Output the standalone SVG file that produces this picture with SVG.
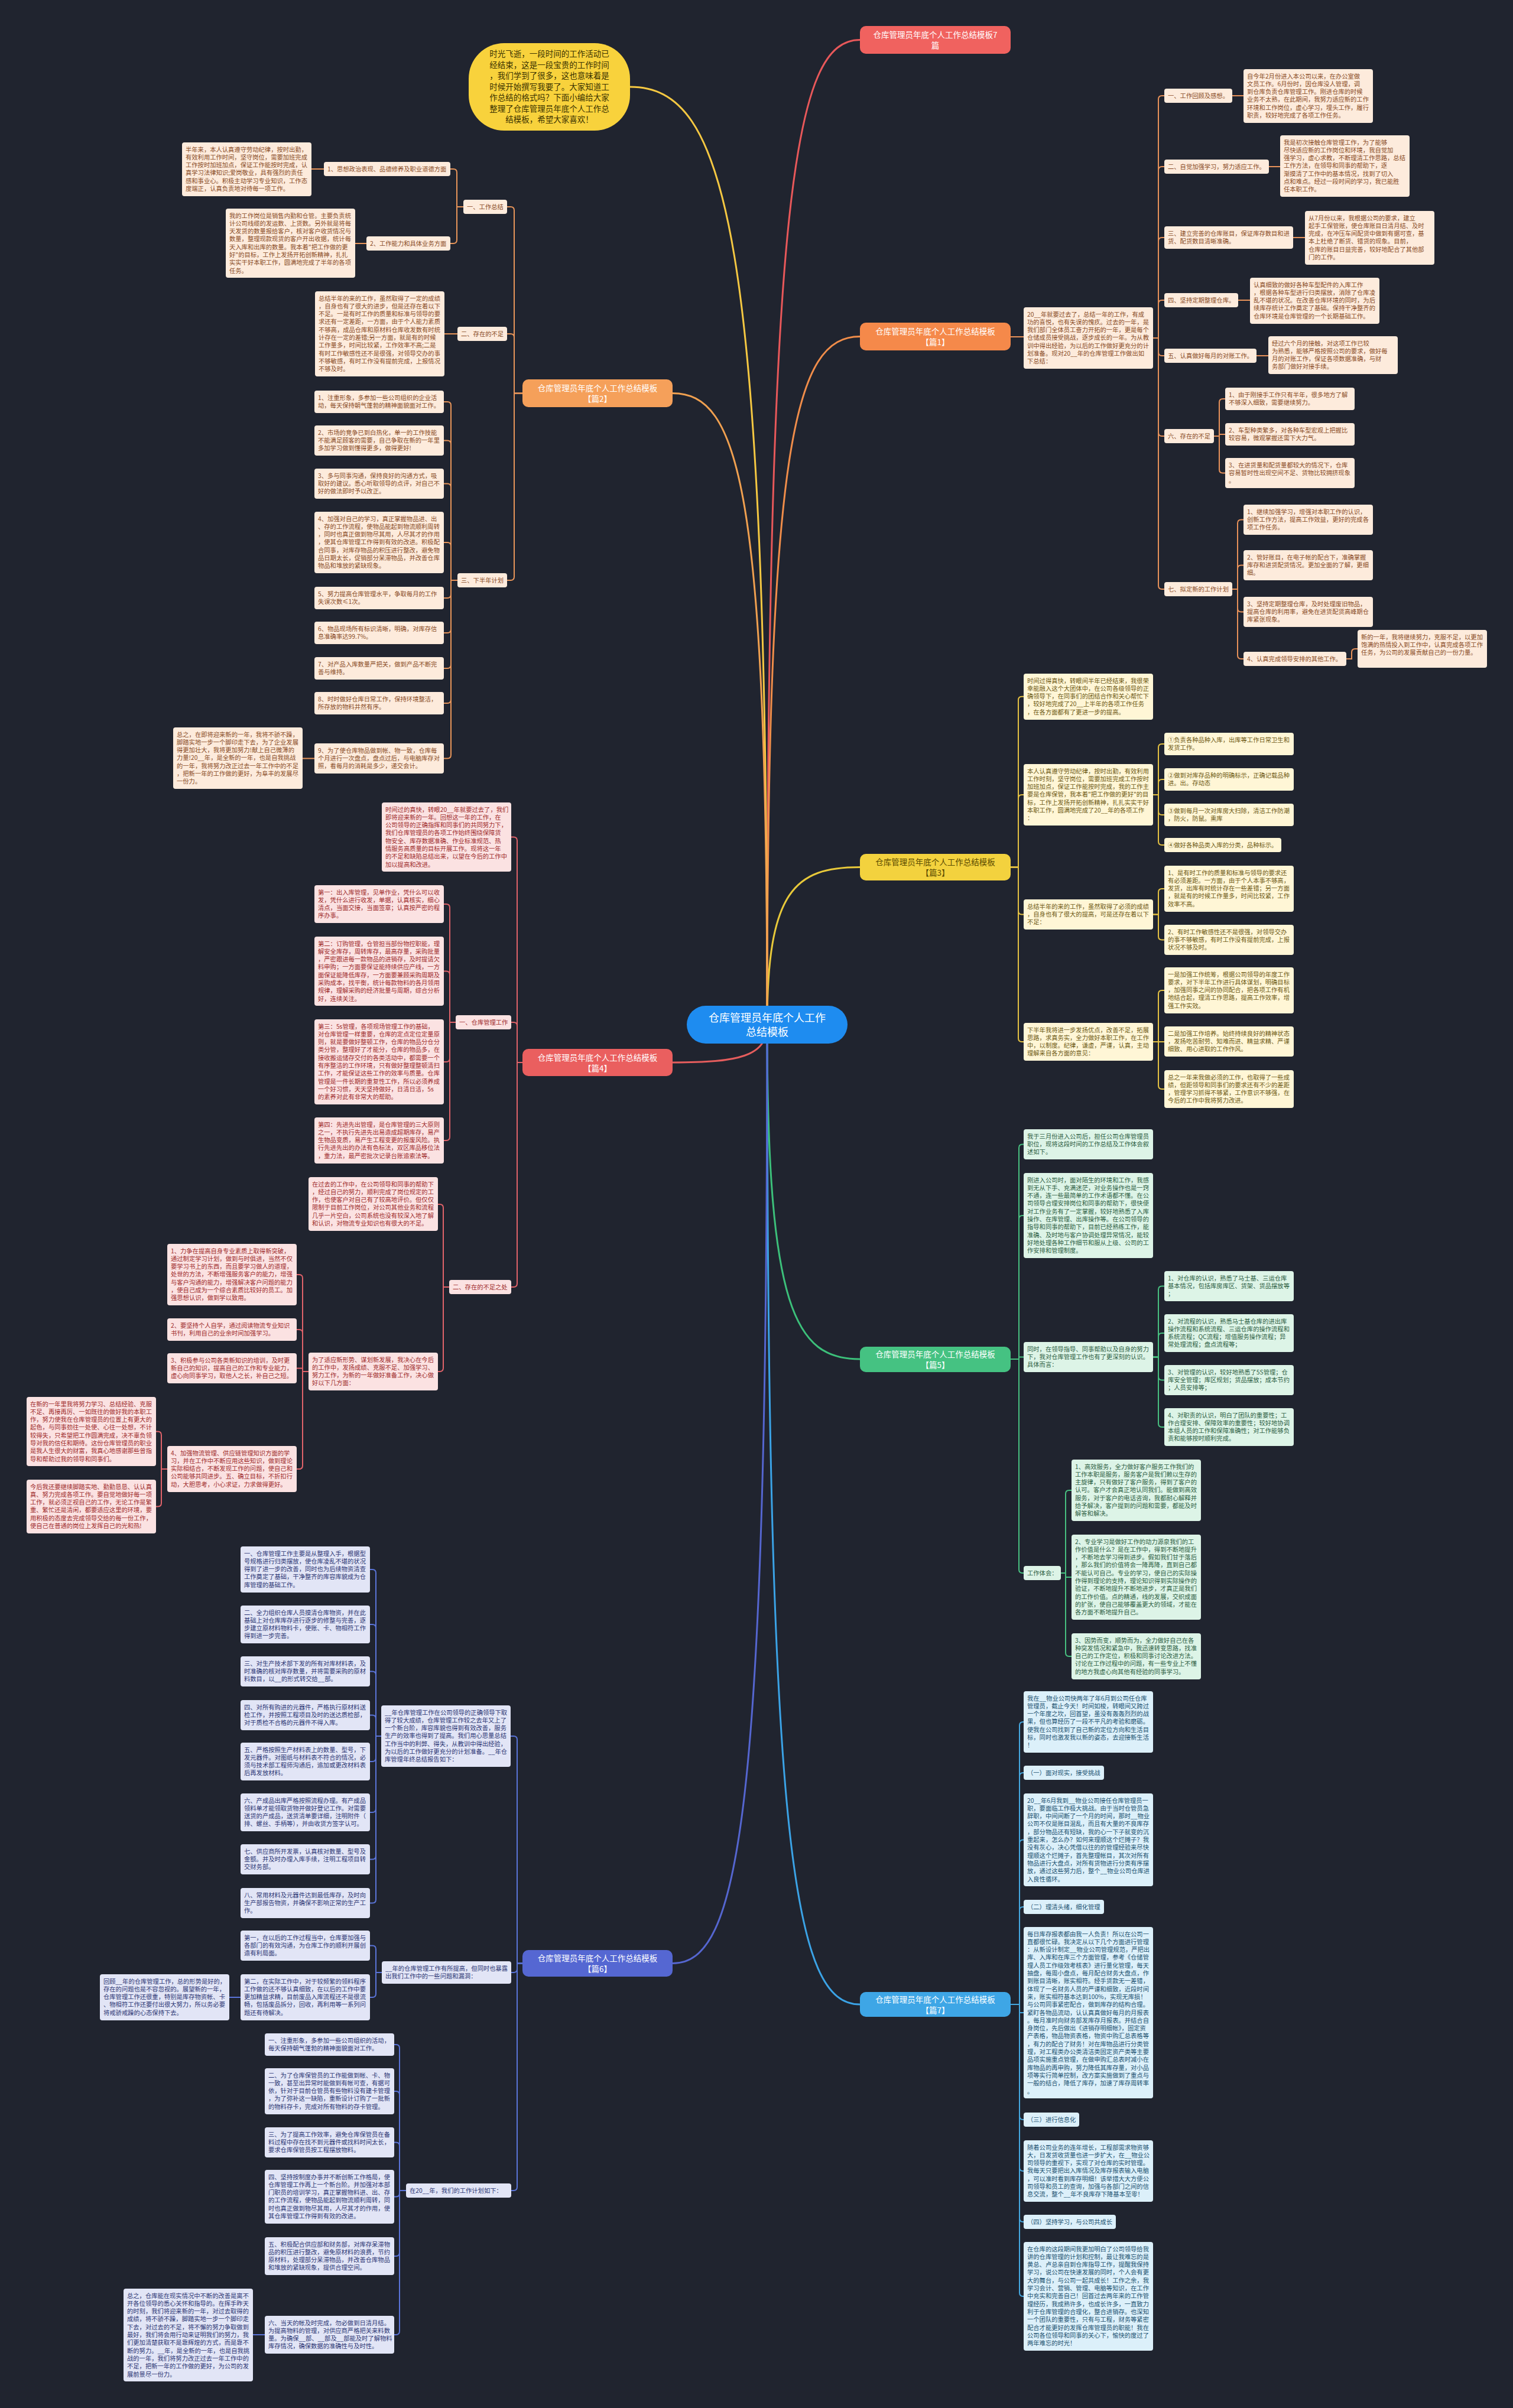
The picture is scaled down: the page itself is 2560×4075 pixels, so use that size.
<svg xmlns="http://www.w3.org/2000/svg" width="2560" height="4075" viewBox="0 0 2560 4075">
<style>
text{font-family:"Noto Sans CJK SC","Noto Sans",sans-serif}
.t{font-size:10.3px}
.or rect{fill:#fdebdc}.or text{fill:#8a4b26}
.rd rect{fill:#fbe2e2}.rd text{fill:#a02c2c}
.ye rect{fill:#fff6d6}.ye text{fill:#6e5a14}
.gr rect{fill:#ddf4e7}.gr text{fill:#2d5e43}
.in rect{fill:#e2e5f6}.in text{fill:#2c3674}
.lb rect{fill:#dcf0fa}.lb text{fill:#205070}
.ln path{fill:none;stroke-width:2}
.mn path{fill:none;stroke-width:3}
.br text{font-size:13.5px;fill:#ffffff;text-anchor:middle}
</style>
<rect x="0" y="0" width="2560" height="4075" fill="#20242f"/>

<g id="connectors">
<g class="mn">
<path d="M1298,1734 C1298,318 1345,67.5 1455,67.5" stroke="#e8585a"/>
<path d="M1298,1734 C1298,744 1345,569.5 1455,569.5" stroke="#f08d4a"/>
<path d="M1298,1734 C1298,1507 1345,1467.5 1455,1467.5" stroke="#e8c93a"/>
<path d="M1298,1734 C1298,2215 1345,2300 1455,2300" stroke="#3cc07a"/>
<path d="M1298,1734 C1298,3143 1345,3392 1455,3392" stroke="#3ba3e6"/>
<path d="M1298,1734 C1298,385 1228,147 1066,147" stroke="#f5c842"/>
<path d="M1298,1734 C1298,826 1250,665.5 1138,665.5" stroke="#f0a050"/>
<path d="M1298,1734 C1298,1788 1250,1798 1138,1798" stroke="#e55d5d"/>
<path d="M1298,1734 C1298,3084 1250,3322.5 1138,3322.5" stroke="#5566d0"/>
</g>
<g class="ln" stroke="#e8955a">
<path d="M884,665.5H870V356Q870,350 864,350H858"/>
<path d="M884,665.5H870V571Q870,565 864,565H858"/>
<path d="M884,665.5H870V976Q870,982 864,982H858"/>
<path d="M784,350H773V292Q773,286 767,286H762"/>
<path d="M784,350H773V406Q773,412 767,412H762"/>
<path d="M527,286H548"/>
<path d="M601,412H620"/>
<path d="M774,565H752"/>
<path d="M774,982H763V686Q763,680 757,680H751"/>
<path d="M774,982H763V751.5Q763,745.5 757,745.5H751"/>
<path d="M774,982H763V824.5Q763,818.5 757,818.5H751"/>
<path d="M774,982H763V924Q763,918 757,918H751"/>
<path d="M774,982H763V1006Q763,1012 757,1012H751"/>
<path d="M774,982H763V1065Q763,1071 757,1071H751"/>
<path d="M774,982H763V1125Q763,1131 757,1131H751"/>
<path d="M774,982H763V1184Q763,1190 757,1190H751"/>
<path d="M774,982H763V1277.5Q763,1283.5 757,1283.5H751"/>
<path d="M512,1283.5H532"/>
</g>
<g class="ln" stroke="#e0636a">
<path d="M884,1798H875V1422.5Q875,1416.5 869,1416.5H865"/>
<path d="M884,1798H875V1736Q875,1730 869,1730H865"/>
<path d="M884,1798H875V2172Q875,2178 869,2178H865"/>
<path d="M771,1730H761V1536Q761,1530 755,1530H751"/>
<path d="M771,1730H761V1649.5Q761,1643.5 755,1643.5H751"/>
<path d="M771,1730H761V1791Q761,1797 755,1797H751"/>
<path d="M771,1730H761V1924Q761,1930 755,1930H751"/>
<path d="M760,2178H750V2044Q750,2038 744,2038H741"/>
<path d="M760,2178H750V2315Q750,2321 744,2321H741"/>
<path d="M522,2321H512V2163Q512,2157 506,2157H502"/>
<path d="M522,2321H512V2256Q512,2250 506,2250H502"/>
<path d="M522,2321H512V2315.5H502"/>
<path d="M522,2321H512V2480Q512,2486 506,2486H502"/>
<path d="M283,2486H273V2428.5Q273,2422.5 267,2422.5H264"/>
<path d="M283,2486H273V2543.5Q273,2549.5 267,2549.5H264"/>
</g>
<g class="ln" stroke="#5a74d8">
<path d="M884,3322.5H875V2944Q875,2938 869,2938H864"/>
<path d="M884,3322.5H875V3332Q875,3338 869,3338H865"/>
<path d="M884,3322.5H875V3701Q875,3707 869,3707H865"/>
<path d="M645,2938H636V2662Q636,2656 630,2656H626"/>
<path d="M645,2938H636V2755Q636,2749 630,2749H626"/>
<path d="M645,2938H636V2834.5Q636,2828.5 630,2828.5H626"/>
<path d="M645,2938H636V2908.5Q636,2902.5 630,2902.5H626"/>
<path d="M645,2938H636V2975Q636,2981 630,2981H626"/>
<path d="M645,2938H636V3061Q636,3067 630,3067H626"/>
<path d="M645,2938H636V3140.5Q636,3146.5 630,3146.5H626"/>
<path d="M645,2938H636V3214.5Q636,3220.5 630,3220.5H626"/>
<path d="M646,3338H636V3298.5Q636,3292.5 630,3292.5H626"/>
<path d="M646,3338H636V3374Q636,3380 630,3380H626"/>
<path d="M388,3380H407"/>
<path d="M687,3707H676V3466Q676,3460 670,3460H667"/>
<path d="M687,3707H676V3545Q676,3539 670,3539H667"/>
<path d="M687,3707H676V3631.5Q676,3625.5 670,3625.5H667"/>
<path d="M687,3707H676V3711.5Q676,3717.5 670,3717.5H667"/>
<path d="M687,3707H676V3812Q676,3818 670,3818H667"/>
<path d="M687,3707H676V3945Q676,3951 670,3951H667"/>
<path d="M428,3951H448"/>
</g>
<g class="ln" stroke="#e8925a">
<path d="M1710,570H1732"/>
<path d="M1951,572H1960V168Q1960,162 1966,162H1970"/>
<path d="M1951,572H1960V288Q1960,282 1966,282H1970"/>
<path d="M1951,572H1960V408Q1960,402 1966,402H1970"/>
<path d="M1951,572H1960V514Q1960,508 1966,508H1970"/>
<path d="M1951,572H1960V596Q1960,602 1966,602H1970"/>
<path d="M1951,572H1960V732Q1960,738 1966,738H1970"/>
<path d="M1951,572H1960V991Q1960,997 1966,997H1970"/>
<path d="M2085,162H2104"/>
<path d="M2147,282H2166"/>
<path d="M2188,402H2208"/>
<path d="M2095,508H2115"/>
<path d="M2126,602H2146"/>
<path d="M2054,738H2063V681Q2063,675 2069,675H2073"/>
<path d="M2054,738H2063V735H2073"/>
<path d="M2054,738H2063V794.5Q2063,800.5 2069,800.5H2073"/>
<path d="M2085,997H2094V885.5Q2094,879.5 2100,879.5H2104"/>
<path d="M2085,997H2094V962.5Q2094,956.5 2100,956.5H2104"/>
<path d="M2085,997H2094V1029.5Q2094,1035.5 2100,1035.5H2104"/>
<path d="M2085,997H2094V1109Q2094,1115 2100,1115H2104"/>
<path d="M2278,1115H2287V1104Q2287,1098 2293,1098H2297"/>
</g>
<g class="ln" stroke="#e5c243">
<path d="M1710,1467.5H1723V1184.75Q1723,1178.75 1729,1178.75H1732"/>
<path d="M1710,1467.5H1723V1351Q1723,1345 1729,1345H1732"/>
<path d="M1710,1467.5H1723V1541.5Q1723,1547.5 1729,1547.5H1732"/>
<path d="M1710,1467.5H1723V1757Q1723,1763 1729,1763H1732"/>
<path d="M1951,1345H1960V1265Q1960,1259 1966,1259H1970"/>
<path d="M1951,1345H1960V1325Q1960,1319 1966,1319H1970"/>
<path d="M1951,1345H1960V1373Q1960,1379 1966,1379H1970"/>
<path d="M1951,1345H1960V1424Q1960,1430 1966,1430H1970"/>
<path d="M1951,1547.5H1960V1510Q1960,1504 1966,1504H1970"/>
<path d="M1951,1547.5H1960V1584.5Q1960,1590.5 1966,1590.5H1970"/>
<path d="M1951,1763H1960V1682Q1960,1676 1966,1676H1970"/>
<path d="M1951,1763H1970"/>
<path d="M1951,1763H1960V1837Q1960,1843 1966,1843H1970"/>
</g>
<g class="ln" stroke="#48c080">
<path d="M1710,2300H1724V1942.5Q1724,1936.5 1730,1936.5H1732"/>
<path d="M1710,2300H1724V2063Q1724,2057 1730,2057H1732"/>
<path d="M1710,2300H1724V2296.5H1732"/>
<path d="M1710,2300H1724V2656Q1724,2662 1730,2662H1732"/>
<path d="M1951,2296.5H1960V2182.5Q1960,2176.5 1966,2176.5H1970"/>
<path d="M1951,2296.5H1960V2262Q1960,2256 1966,2256H1970"/>
<path d="M1951,2296.5H1960V2329.5Q1960,2335.5 1966,2335.5H1970"/>
<path d="M1951,2296.5H1960V2409Q1960,2415 1966,2415H1970"/>
<path d="M1795,2662H1803V2528Q1803,2522 1809,2522H1813"/>
<path d="M1795,2662H1803V2669H1813"/>
<path d="M1795,2662H1803V2797Q1803,2803 1809,2803H1813"/>
</g>
<g class="ln" stroke="#45a8e0">
<path d="M1710,3392H1725V2920Q1725,2914 1731,2914H1732"/>
<path d="M1710,3392H1725V3006Q1725,3000 1731,3000H1732"/>
<path d="M1710,3392H1725V3119.5Q1725,3113.5 1731,3113.5H1732"/>
<path d="M1710,3392H1725V3233Q1725,3227 1731,3227H1732"/>
<path d="M1710,3392H1725V3406H1732"/>
<path d="M1710,3392H1725V3581Q1725,3587 1731,3587H1732"/>
<path d="M1710,3392H1725V3668Q1725,3674 1731,3674H1732"/>
<path d="M1710,3392H1725V3754Q1725,3760 1731,3760H1732"/>
<path d="M1710,3392H1725V3880Q1725,3886 1731,3886H1732"/>
</g>
</g>

<g id="center">
<rect x="1162" y="1702" width="272" height="64" rx="32" fill="#1e8cf0"/>
<text x="1298" y="1729" font-size="18" fill="#ffffff" text-anchor="middle">仓库管理员年底个人工作</text>
<text x="1298" y="1753" font-size="18" fill="#ffffff" text-anchor="middle">总结模板</text>
</g>

<g id="intro">
<rect x="793" y="73" width="273" height="148" rx="60" fill="#f8d23c"/>
<text x="929.5" y="96" font-size="13.5" fill="#3b3200" text-anchor="middle"><tspan x="929.5" dy="0">时光飞逝，一段时间的工作活动已</tspan><tspan x="929.5" dy="18.5">经结束，这是一段宝贵的工作时间</tspan><tspan x="929.5" dy="18.5">，我们学到了很多，这也意味着是</tspan><tspan x="929.5" dy="18.5">时候开始撰写我要了。大家知道工</tspan><tspan x="929.5" dy="18.5">作总结的格式吗？下面小编给大家</tspan><tspan x="929.5" dy="18.5">整理了仓库管理员年底个人工作总</tspan><tspan x="929.5" dy="18.5">结模板，希望大家喜欢！</tspan></text>
</g>

<g id="b7" class="br"><rect x="1455" y="44" width="255" height="47" rx="10" fill="#f0625f"/><text x="1582.5" y="64">仓库管理员年底个人工作总结模板7</text><text x="1582.5" y="82">篇</text></g>
<g id="b1" class="br"><rect x="1455" y="546" width="255" height="47" rx="10" fill="#f5894a"/><text x="1582.5" y="566">仓库管理员年底个人工作总结模板</text><text x="1582.5" y="584">【篇1】</text></g>
<g id="b2" class="br"><rect x="884" y="642" width="254" height="47" rx="10" fill="#f5a05a"/><text x="1011" y="662">仓库管理员年底个人工作总结模板</text><text x="1011" y="680">【篇2】</text></g>
<g id="b3" class="br"><rect x="1455" y="1445" width="255" height="45" rx="10" fill="#f3d23e"/><text x="1582.5" y="1464" style="fill:#5a4a00">仓库管理员年底个人工作总结模板</text><text x="1582.5" y="1482" style="fill:#5a4a00">【篇3】</text></g>
<g id="b4" class="br"><rect x="884" y="1775" width="254" height="46" rx="10" fill="#ea5f5f"/><text x="1011" y="1795">仓库管理员年底个人工作总结模板</text><text x="1011" y="1813">【篇4】</text></g>
<g id="b5" class="br"><rect x="1455" y="2279" width="255" height="43" rx="10" fill="#45c282"/><text x="1582.5" y="2297">仓库管理员年底个人工作总结模板</text><text x="1582.5" y="2315">【篇5】</text></g>
<g id="b6" class="br"><rect x="884" y="3300" width="254" height="45" rx="10" fill="#5567d2"/><text x="1011" y="3319">仓库管理员年底个人工作总结模板</text><text x="1011" y="3337">【篇6】</text></g>
<g id="b7b" class="br"><rect x="1455" y="3371" width="255" height="42" rx="10" fill="#3ea6e6"/><text x="1582.5" y="3389">仓库管理员年底个人工作总结模板</text><text x="1582.5" y="3407">【篇7】</text></g>

<!-- 篇2 -->
<g class="or">
<g id="p2-l1"><rect x="784" y="338" width="74" height="24" rx="4"/><text class="t" x="790" y="354">一、工作总结</text></g>
<g id="p2-l2"><rect x="774" y="553" width="84" height="24" rx="4"/><text class="t" x="780" y="569">二、存在的不足</text></g>
<g id="p2-l3"><rect x="774" y="970" width="84" height="24" rx="4"/><text class="t" x="780" y="986">三、下半年计划</text></g>
<g id="p2-m1"><rect x="548" y="274" width="214" height="24" rx="4"/><text class="t" x="554" y="290">1、思想政治表现、品德修养及职业道德方面</text></g>
<g id="p2-m2"><rect x="620" y="400" width="142" height="24" rx="4"/><text class="t" x="626" y="416">2、工作能力和具体业务方面</text></g>
<g id="p2-a"><rect x="308" y="241" width="219" height="91" rx="4"/><text class="t" x="314" y="256.5"><tspan x="314" dy="0">半年来，本人认真遵守劳动纪律，按时出勤，</tspan><tspan x="314" dy="13.3">有效利用工作时间，坚守岗位，需要加班完成</tspan><tspan x="314" dy="13.3">工作按时加班加点，保证工作能按时完成，认</tspan><tspan x="314" dy="13.3">真学习法律知识;爱岗敬业，具有强烈的责任</tspan><tspan x="314" dy="13.3">感和事业心。积极主动学习专业知识，工作态</tspan><tspan x="314" dy="13.3">度端正，认真负责地对待每一项工作。</tspan></text></g>
<g id="p2-b"><rect x="382" y="353" width="219" height="117" rx="4"/><text class="t" x="388" y="368.5"><tspan x="388" dy="0">我的工作岗位是销售内勤和仓管。主要负责统</tspan><tspan x="388" dy="13.3">计公司线缆的发运数、上货数。另外就是将每</tspan><tspan x="388" dy="13.3">天发货的数量报给客户，核对客户收货情况与</tspan><tspan x="388" dy="13.3">数量，整理现款现货的客户开出收据，统计每</tspan><tspan x="388" dy="13.3">天入库和出库的数量。我本着"把工作做的更</tspan><tspan x="388" dy="13.3">好"的目标，工作上发扬开拓创新精神，扎扎</tspan><tspan x="388" dy="13.3">实实干好本职工作，圆满地完成了半年的各项</tspan><tspan x="388" dy="13.3">任务。</tspan></text></g>
<g id="p2-c"><rect x="533" y="493" width="219" height="144" rx="4"/><text class="t" x="539" y="508.5"><tspan x="539" dy="0">总结半年的来的工作，虽然取得了一定的成绩</tspan><tspan x="539" dy="13.3">，自身也有了很大的进步，但是还存在着以下</tspan><tspan x="539" dy="13.3">不足。一是有时工作的质量和标准与领导的要</tspan><tspan x="539" dy="13.3">求还有一定差距，一方面，由于个人能力素质</tspan><tspan x="539" dy="13.3">不够高，成品仓库和原材料仓库收发数有时统</tspan><tspan x="539" dy="13.3">计存在一定的差错;另一方面，就是有的时候</tspan><tspan x="539" dy="13.3">工作量多，时间比较紧，工作效率不高;二是</tspan><tspan x="539" dy="13.3">有时工作敏感性还不是很强，对领导交办的事</tspan><tspan x="539" dy="13.3">不够敏感，有时工作没有提前完成，上报情况</tspan><tspan x="539" dy="13.3">不够及时。</tspan></text></g>
<g id="p2-d1"><rect x="532" y="661" width="219" height="38" rx="4"/><text class="t" x="538" y="676.5"><tspan x="538" dy="0">1、注重形象，多参加一些公司组织的企业活</tspan><tspan x="538" dy="13.3">动，每天保持朝气蓬勃的精神面貌面对工作。</tspan></text></g>
<g id="p2-d2"><rect x="532" y="720" width="219" height="51" rx="4"/><text class="t" x="538" y="735.5"><tspan x="538" dy="0">2、市场的竞争已到白热化，单一的工作技能</tspan><tspan x="538" dy="13.3">不能满足顾客的需要，自己争取在新的一年里</tspan><tspan x="538" dy="13.3">多加学习做到懂得更多，做得更好!</tspan></text></g>
<g id="p2-d3"><rect x="532" y="793" width="219" height="51" rx="4"/><text class="t" x="538" y="808.5"><tspan x="538" dy="0">3、多与同事沟通，保持良好的沟通方式，吸</tspan><tspan x="538" dy="13.3">取好的建议。悉心听取领导的点评，对自己不</tspan><tspan x="538" dy="13.3">好的做法即时予以改正。</tspan></text></g>
<g id="p2-d4"><rect x="532" y="866" width="219" height="104" rx="4"/><text class="t" x="538" y="881.5"><tspan x="538" dy="0">4、加强对自己的学习，真正掌握物品进、出</tspan><tspan x="538" dy="13.3">、存的工作流程，使物品能起到物流顺利周转</tspan><tspan x="538" dy="13.3">，同时也真正做到物尽其用，人尽其才的作用</tspan><tspan x="538" dy="13.3">，使其仓库管理工作得到有效的改进。积极配</tspan><tspan x="538" dy="13.3">合同事，对库存物品的积压进行整改，避免物</tspan><tspan x="538" dy="13.3">品日期太长，促销部分呆滞物品，并改善仓库</tspan><tspan x="538" dy="13.3">物品和堆放的紧缺现象。</tspan></text></g>
<g id="p2-d5"><rect x="532" y="993" width="219" height="38" rx="4"/><text class="t" x="538" y="1008.5"><tspan x="538" dy="0">5、努力提高仓库管理水平，争取每月的工作</tspan><tspan x="538" dy="13.3">失误次数≤1次。</tspan></text></g>
<g id="p2-d6"><rect x="532" y="1052" width="219" height="38" rx="4"/><text class="t" x="538" y="1067.5"><tspan x="538" dy="0">6、物品现场所有标识清晰，明确，对库存信</tspan><tspan x="538" dy="13.3">息准确率达99.7%。</tspan></text></g>
<g id="p2-d7"><rect x="532" y="1112" width="219" height="38" rx="4"/><text class="t" x="538" y="1127.5"><tspan x="538" dy="0">7、对产品入库数量严把关，做到产品不断完</tspan><tspan x="538" dy="13.3">善与维持。</tspan></text></g>
<g id="p2-d8"><rect x="532" y="1171" width="219" height="38" rx="4"/><text class="t" x="538" y="1186.5"><tspan x="538" dy="0">8、时时做好仓库日常工作，保持环境整洁，</tspan><tspan x="538" dy="13.3">所存放的物料井然有序。</tspan></text></g>
<g id="p2-d9"><rect x="532" y="1258" width="219" height="51" rx="4"/><text class="t" x="538" y="1273.5"><tspan x="538" dy="0">9、为了使仓库物品做到帐、物一致，仓库每</tspan><tspan x="538" dy="13.3">个月进行一次盘点，盘点过后，与电脑库存对</tspan><tspan x="538" dy="13.3">照，看每月的消耗是多少，递交会计。</tspan></text></g>
<g id="p2-e"><rect x="293" y="1231" width="219" height="104" rx="4"/><text class="t" x="299" y="1246.5"><tspan x="299" dy="0">总之，在即将迎来新的一年，我将不骄不躁，</tspan><tspan x="299" dy="13.3">脚踏实地一步一个脚印走下去，为了企业发展</tspan><tspan x="299" dy="13.3">得更加壮大，我将更加努力!献上自己微薄的</tspan><tspan x="299" dy="13.3">力量!20__年，是全新的一年，也是自我挑战</tspan><tspan x="299" dy="13.3">的一年，我将努力改正过去一年工作中的不足</tspan><tspan x="299" dy="13.3">，把新一年的工作做的更好，为阜丰的发展尽</tspan><tspan x="299" dy="13.3">一份力。</tspan></text></g>
</g>

<!-- 篇4 -->
<g class="rd">
<g id="p4-i"><rect x="646" y="1358" width="219" height="117" rx="4"/><text class="t" x="652" y="1373.5"><tspan x="652" dy="0">时间过的真快，转眼20__年就要过去了，我们</tspan><tspan x="652" dy="13.3">即将迎来新的一年。回想这一年的工作，在</tspan><tspan x="652" dy="13.3">公司领导的正确指挥和同事们的共同努力下，</tspan><tspan x="652" dy="13.3">我们仓库管理员的各项工作始终围绕保障货</tspan><tspan x="652" dy="13.3">物安全、库存数据准确、作业标准规范、热</tspan><tspan x="652" dy="13.3">情服务高质量的目标开展工作。现将这一年</tspan><tspan x="652" dy="13.3">的不足和缺陷总结出来，以望在今后的工作中</tspan><tspan x="652" dy="13.3">加以提高和改进。</tspan></text></g>
<g id="p4-l1"><rect x="771" y="1718" width="94" height="24" rx="4"/><text class="t" x="777" y="1734">一、仓库管理工作</text></g>
<g id="p4-l2"><rect x="760" y="2166" width="105" height="24" rx="4"/><text class="t" x="766" y="2182">二、存在的不足之处</text></g>
<g id="p4-a1"><rect x="532" y="1498" width="219" height="64" rx="4"/><text class="t" x="538" y="1513.5"><tspan x="538" dy="0">第一：出入库管理，见单作业，凭什么可以收</tspan><tspan x="538" dy="13.3">发，凭什么进行收发，单据，认真核实，细心</tspan><tspan x="538" dy="13.3">清点，当面交接，当面签章；认真按严密的程</tspan><tspan x="538" dy="13.3">序办事。</tspan></text></g>
<g id="p4-a2"><rect x="532" y="1585" width="219" height="117" rx="4"/><text class="t" x="538" y="1600.5"><tspan x="538" dy="0">第二：订购管理，仓管担当部份物控职能，理</tspan><tspan x="538" dy="13.3">解安全库存，周转库存，最高存量，采购批量</tspan><tspan x="538" dy="13.3">，严密跟进每一款物品的进销存，及时提请欠</tspan><tspan x="538" dy="13.3">料申购；一方面要保证能持续供应产线，一方</tspan><tspan x="538" dy="13.3">面保证能降低库存，一方面要兼顾采购周期及</tspan><tspan x="538" dy="13.3">采购成本，找平衡，统计每款物料的各月领用</tspan><tspan x="538" dy="13.3">规律，理解采购的经济批量与周期，综合分析</tspan><tspan x="538" dy="13.3">好，连续关注。</tspan></text></g>
<g id="p4-a3"><rect x="532" y="1725" width="219" height="144" rx="4"/><text class="t" x="538" y="1740.5"><tspan x="538" dy="0">第三：5s管理，各项现场管理工作的基础，</tspan><tspan x="538" dy="13.3">对仓库管理一样重要，仓库的定点定位定量原</tspan><tspan x="538" dy="13.3">则，就是要做好整顿工作，仓库的物品分仓分</tspan><tspan x="538" dy="13.3">类分管，整理好了才能分，仓库的物品多，在</tspan><tspan x="538" dy="13.3">接收搬运储存交付的各类活动中，都需要一个</tspan><tspan x="538" dy="13.3">有序整洁的工作环境，只有做好整理整顿清扫</tspan><tspan x="538" dy="13.3">工作，才能保证这些工作的效率与质量。仓库</tspan><tspan x="538" dy="13.3">管理是一件长期的重复性工作，所以必须养成</tspan><tspan x="538" dy="13.3">一个好习惯，天天坚持做好，日清日洁，5s</tspan><tspan x="538" dy="13.3">的素养对此有非常大的帮助。</tspan></text></g>
<g id="p4-a4"><rect x="532" y="1891" width="219" height="78" rx="4"/><text class="t" x="538" y="1906.5"><tspan x="538" dy="0">第四：先进先出管理，是仓库管理的三大原则</tspan><tspan x="538" dy="13.3">之一，不执行先进先出易造成超期库存，易产</tspan><tspan x="538" dy="13.3">生物品变质，易产生工程变更的报废风险。执</tspan><tspan x="538" dy="13.3">行先进先出的办法有色标法，双区库品移位法</tspan><tspan x="538" dy="13.3">，重力法，最严密批次记录台账追索法等。</tspan></text></g>
<g id="p4-b1"><rect x="522" y="1992" width="219" height="91" rx="4"/><text class="t" x="528" y="2007.5"><tspan x="528" dy="0">在过去的工作中，在公司领导和同事的帮助下</tspan><tspan x="528" dy="13.3">，经过自己的努力，顺利完成了岗位规定的工</tspan><tspan x="528" dy="13.3">作，也使客户对自己有了较高地评价。但仅仅</tspan><tspan x="528" dy="13.3">限制于目前工作岗位，对公司其他业务和流程</tspan><tspan x="528" dy="13.3">几乎一片空白，公司系统也没有较深入地了解</tspan><tspan x="528" dy="13.3">和认识，对物流专业知识也有很大的不足。</tspan></text></g>
<g id="p4-b2"><rect x="522" y="2289" width="219" height="64" rx="4"/><text class="t" x="528" y="2304.5"><tspan x="528" dy="0">为了适应新形势、谋划新发展，我决心在今后</tspan><tspan x="528" dy="13.3">的工作中，发扬成绩、克服不足、加强学习、</tspan><tspan x="528" dy="13.3">努力工作，为新的一年做好准备工作，决心做</tspan><tspan x="528" dy="13.3">好以下几方面：</tspan></text></g>
<g id="p4-c1"><rect x="283" y="2105" width="219" height="104" rx="4"/><text class="t" x="289" y="2120.5"><tspan x="289" dy="0">1、力争在提高自身专业素质上取得新突破，</tspan><tspan x="289" dy="13.3">通过制定学习计划，做到与时俱进，当然不仅</tspan><tspan x="289" dy="13.3">要学习书上的东西，而且要学习做人的道理，</tspan><tspan x="289" dy="13.3">处世的方法，不断增强服务客户的能力，增强</tspan><tspan x="289" dy="13.3">与客户沟通的能力，增强解决客户问题的能力</tspan><tspan x="289" dy="13.3">，使自己成为一个综合素质比较好的员工。加</tspan><tspan x="289" dy="13.3">强思想认识，做到学以致用。</tspan></text></g>
<g id="p4-c2"><rect x="283" y="2231" width="219" height="38" rx="4"/><text class="t" x="289" y="2246.5"><tspan x="289" dy="0">2、要坚持个人自学，通过阅读物流专业知识</tspan><tspan x="289" dy="13.3">书刊，利用自己的业余时间加强学习。</tspan></text></g>
<g id="p4-c3"><rect x="283" y="2290" width="219" height="51" rx="4"/><text class="t" x="289" y="2305.5"><tspan x="289" dy="0">3、积极参与公司各类新知识的培训，及时更</tspan><tspan x="289" dy="13.3">新自己的知识，提高自己的工作和专业能力，</tspan><tspan x="289" dy="13.3">虚心向同事学习，取他人之长，补自己之短。</tspan></text></g>
<g id="p4-c4"><rect x="283" y="2447" width="219" height="78" rx="4"/><text class="t" x="289" y="2462.5"><tspan x="289" dy="0">4、加强物流管理、供应链管理知识方面的学</tspan><tspan x="289" dy="13.3">习，并在工作中不断应用这些知识，做到理论</tspan><tspan x="289" dy="13.3">实际相结合，不断发现工作的问题，使自己和</tspan><tspan x="289" dy="13.3">公司能够共同进步。五、确立目标，不折扣行</tspan><tspan x="289" dy="13.3">动，大胆思考，小心求证，力求做得更好。</tspan></text></g>
<g id="p4-d1"><rect x="45" y="2364" width="219" height="117" rx="4"/><text class="t" x="51" y="2379.5"><tspan x="51" dy="0">在新的一年里我将努力学习、总结经验、克服</tspan><tspan x="51" dy="13.3">不足、再接再厉、一如既往的做好我的本职工</tspan><tspan x="51" dy="13.3">作，努力使我在仓库管理员的位置上有更大的</tspan><tspan x="51" dy="13.3">起色，与同事劲往一处使、心往一处想，不计</tspan><tspan x="51" dy="13.3">较得失，只希望把工作圆满完成，决不辜负领</tspan><tspan x="51" dy="13.3">导对我的信任和期待。这份仓库管理员的职业</tspan><tspan x="51" dy="13.3">是我人生很大的财富，我真心地感谢那些曾指</tspan><tspan x="51" dy="13.3">导和帮助过我的领导和同事们。</tspan></text></g>
<g id="p4-d2"><rect x="45" y="2504" width="219" height="91" rx="4"/><text class="t" x="51" y="2519.5"><tspan x="51" dy="0">今后我还要继续脚踏实地、勤勤恳恳、认认真</tspan><tspan x="51" dy="13.3">真、努力完成各项工作。要自觉地做好每一项</tspan><tspan x="51" dy="13.3">工作，就必须正视自己的工作，无论工作是繁</tspan><tspan x="51" dy="13.3">重、繁忙还是清闲，都要适应这里的环境，要</tspan><tspan x="51" dy="13.3">用积极的态度去完成领导交给的每一份工作，</tspan><tspan x="51" dy="13.3">使自己在普通的岗位上发挥自己的光和热!</tspan></text></g>
</g>

<!-- 篇6 -->
<g class="in">
<g id="p6-l1"><rect x="645" y="2886" width="219" height="104" rx="4"/><text class="t" x="651" y="2901.5"><tspan x="651" dy="0">__年仓库管理工作在公司领导的正确领导下取</tspan><tspan x="651" dy="13.3">得了较大成绩，仓库管理工作较之去年又上了</tspan><tspan x="651" dy="13.3">一个新台阶，库容库貌也得到有效改善，服务</tspan><tspan x="651" dy="13.3">生产的效率也得到了提高。我们用心思量总结</tspan><tspan x="651" dy="13.3">工作当中的利弊、得失，从教训中得出经验，</tspan><tspan x="651" dy="13.3">为以后的工作做好更充分的计划准备。__年仓</tspan><tspan x="651" dy="13.3">库管理年终总结报告如下：</tspan></text></g>
<g id="p6-l2"><rect x="646" y="3319" width="219" height="38" rx="4"/><text class="t" x="652" y="3334.5"><tspan x="652" dy="0">__年的仓库管理工作有所提高，但同时也暴露</tspan><tspan x="652" dy="13.3">出我们工作中的一些问题和漏洞：</tspan></text></g>
<g id="p6-l3"><rect x="687" y="3695" width="178" height="24" rx="4"/><text class="t" x="693" y="3711">在20__年，我们的工作计划如下：</text></g>
<g id="p6-a1"><rect x="407" y="2617" width="219" height="78" rx="4"/><text class="t" x="413" y="2632.5"><tspan x="413" dy="0">一、仓库管理工作主要是从整理入手，根据型</tspan><tspan x="413" dy="13.3">号规格进行归类摆放，使仓库凌乱不堪的状况</tspan><tspan x="413" dy="13.3">得到了进一步的改善，同时也为后续物资清查</tspan><tspan x="413" dy="13.3">工作奠定了基础，干净整齐的库容库貌成为仓</tspan><tspan x="413" dy="13.3">库管理的基础工作。</tspan></text></g>
<g id="p6-a2"><rect x="407" y="2717" width="219" height="64" rx="4"/><text class="t" x="413" y="2732.5"><tspan x="413" dy="0">二、全力组织仓库人员摸清仓库物资，并在此</tspan><tspan x="413" dy="13.3">基础上对仓库库存进行逐步的修整与完善，逐</tspan><tspan x="413" dy="13.3">步建立原材料物料卡，使账、卡、物相符工作</tspan><tspan x="413" dy="13.3">得到进一步完善。</tspan></text></g>
<g id="p6-a3"><rect x="407" y="2803" width="219" height="51" rx="4"/><text class="t" x="413" y="2818.5"><tspan x="413" dy="0">三、对生产技术部下发的所有对库材料表，及</tspan><tspan x="413" dy="13.3">时准确的核对库存数量，并将需要采购的原材</tspan><tspan x="413" dy="13.3">料数目，以__的形式转交给__部。</tspan></text></g>
<g id="p6-a4"><rect x="407" y="2877" width="219" height="51" rx="4"/><text class="t" x="413" y="2892.5"><tspan x="413" dy="0">四、对所有购进的元器件，严格执行原材料送</tspan><tspan x="413" dy="13.3">检工作，并按照工程项目及时的送达质检部，</tspan><tspan x="413" dy="13.3">对于质检不合格的元器件不得入库。</tspan></text></g>
<g id="p6-a5"><rect x="407" y="2949" width="219" height="64" rx="4"/><text class="t" x="413" y="2964.5"><tspan x="413" dy="0">五、严格按照生产材料表上的数量、型号，下</tspan><tspan x="413" dy="13.3">发元器件。对图纸与材料表不符合的情况，必</tspan><tspan x="413" dy="13.3">须与技术部工程师沟通后，追加或更改材料表</tspan><tspan x="413" dy="13.3">后再发放材料。</tspan></text></g>
<g id="p6-a6"><rect x="407" y="3035" width="219" height="64" rx="4"/><text class="t" x="413" y="3050.5"><tspan x="413" dy="0">六、产成品出库严格按照流程办理。有产成品</tspan><tspan x="413" dy="13.3">领料单才能领取货物并做好登记工作。对需要</tspan><tspan x="413" dy="13.3">送货的产成品，送货清单要详细，注明附件（</tspan><tspan x="413" dy="13.3">排、螺丝、手柄等），并由收货方签字认可。</tspan></text></g>
<g id="p6-a7"><rect x="407" y="3121" width="219" height="51" rx="4"/><text class="t" x="413" y="3136.5"><tspan x="413" dy="0">七、供应商所开发票，认真核对数量、型号及</tspan><tspan x="413" dy="13.3">金额。并及时办理入库手续，注明工程项目转</tspan><tspan x="413" dy="13.3">交财务部。</tspan></text></g>
<g id="p6-a8"><rect x="407" y="3195" width="219" height="51" rx="4"/><text class="t" x="413" y="3210.5"><tspan x="413" dy="0">八、常用材料及元器件达到最低库存，及时向</tspan><tspan x="413" dy="13.3">生产部报告物资，并确保不影响正常的生产工</tspan><tspan x="413" dy="13.3">作。</tspan></text></g>
<g id="p6-b1"><rect x="407" y="3267" width="219" height="51" rx="4"/><text class="t" x="413" y="3282.5"><tspan x="413" dy="0">第一，在以后的工作过程当中，仓库要加强与</tspan><tspan x="413" dy="13.3">各部门的有效沟通，为仓库工作的顺利开展创</tspan><tspan x="413" dy="13.3">造有利局面。</tspan></text></g>
<g id="p6-b2"><rect x="407" y="3341" width="219" height="78" rx="4"/><text class="t" x="413" y="3356.5"><tspan x="413" dy="0">第二，在实际工作中，对于较频繁的领料程序</tspan><tspan x="413" dy="13.3">工作做的还不够认真细致，在以后的工作中要</tspan><tspan x="413" dy="13.3">更加精益求精，目前废品入库流程还不是很流</tspan><tspan x="413" dy="13.3">畅，包括废品拆分，回收，再利用等一系列问</tspan><tspan x="413" dy="13.3">题还有待解决。</tspan></text></g>
<g id="p6-b3"><rect x="169" y="3341" width="219" height="78" rx="4"/><text class="t" x="175" y="3356.5"><tspan x="175" dy="0">回顾__年的仓库管理工作，总的形势是好的，</tspan><tspan x="175" dy="13.3">存在的问题也是不容忽视的。展望新的一年，</tspan><tspan x="175" dy="13.3">仓库管理工作还很重，特别是库存物资帐、卡</tspan><tspan x="175" dy="13.3">、物相符工作还要付出很大努力，所以务必要</tspan><tspan x="175" dy="13.3">将戒骄戒躁的心态保持下去。</tspan></text></g>
<g id="p6-c1"><rect x="448" y="3441" width="219" height="38" rx="4"/><text class="t" x="454" y="3456.5"><tspan x="454" dy="0">一、注重形象，多参加一些公司组织的活动，</tspan><tspan x="454" dy="13.3">每天保持朝气蓬勃的精神面貌面对工作。</tspan></text></g>
<g id="p6-c2"><rect x="448" y="3500" width="219" height="78" rx="4"/><text class="t" x="454" y="3515.5"><tspan x="454" dy="0">二、为了仓库保管员的工作能做到帐、卡、物</tspan><tspan x="454" dy="13.3">一致，甚至出异常时能做到有帐可查，有据可</tspan><tspan x="454" dy="13.3">依，针对于目前仓管员有些物料没有建卡管理</tspan><tspan x="454" dy="13.3">，为了弥补这一缺陷，重新设计订购了一批新</tspan><tspan x="454" dy="13.3">的物料存卡，完成对所有物料的存卡管理。</tspan></text></g>
<g id="p6-c3"><rect x="448" y="3600" width="219" height="51" rx="4"/><text class="t" x="454" y="3615.5"><tspan x="454" dy="0">三、为了提高工作效率，避免仓库保管员在备</tspan><tspan x="454" dy="13.3">料过程中存在找不到元器件或找料时间太长，</tspan><tspan x="454" dy="13.3">要求仓库保管员按工程摆放物料。</tspan></text></g>
<g id="p6-c4"><rect x="448" y="3672" width="219" height="91" rx="4"/><text class="t" x="454" y="3687.5"><tspan x="454" dy="0">四、坚持按制度办事并不断创新工作格局，使</tspan><tspan x="454" dy="13.3">仓库管理工作再上一个新台阶。并加强对本部</tspan><tspan x="454" dy="13.3">门职员的培训学习，真正掌握物料进、出、存</tspan><tspan x="454" dy="13.3">的工作流程，使物品能起到物流顺利周转，同</tspan><tspan x="454" dy="13.3">时也真正做到物尽其用，人尽其才的作用，使</tspan><tspan x="454" dy="13.3">其仓库管理工作得到有效的改进。</tspan></text></g>
<g id="p6-c5"><rect x="448" y="3786" width="219" height="64" rx="4"/><text class="t" x="454" y="3801.5"><tspan x="454" dy="0">五、积极配合供应部和财务部，对库存呆滞物</tspan><tspan x="454" dy="13.3">品的积压进行整改，避免原材料的浪费，节约</tspan><tspan x="454" dy="13.3">原材料，处理部分呆滞物品，并改善仓库物品</tspan><tspan x="454" dy="13.3">和堆放的紧缺现象，提供合理空间。</tspan></text></g>
<g id="p6-c6"><rect x="448" y="3919" width="219" height="64" rx="4"/><text class="t" x="454" y="3934.5"><tspan x="454" dy="0">六、当天的帐及时完成，勿必做到日清月结。</tspan><tspan x="454" dy="13.3">为提高物料的管理，对供应商严格把关来料数</tspan><tspan x="454" dy="13.3">量。为确保__部、__部及__部能及时了解物料</tspan><tspan x="454" dy="13.3">库存情况，确保数据的准确性与及时性。</tspan></text></g>
<g id="p6-c7"><rect x="209" y="3873" width="219" height="157" rx="4"/><text class="t" x="215" y="3888.5"><tspan x="215" dy="0">总之，仓库能在现实情况中不断的改善是离不</tspan><tspan x="215" dy="13.3">开各位领导的悉心关怀和指导的。在挥手昨天</tspan><tspan x="215" dy="13.3">的时刻，我们将迎来新的一年，对过去取得的</tspan><tspan x="215" dy="13.3">成绩，将不骄不躁，脚踏实地一步一个脚印走</tspan><tspan x="215" dy="13.3">下去，对过去的不足，将不懈的努力争取做到</tspan><tspan x="215" dy="13.3">最好，我们将会用行动来证明我们的努力，我</tspan><tspan x="215" dy="13.3">们更加清楚获取不是靠辉煌的方式，而是靠不</tspan><tspan x="215" dy="13.3">断的努力。__年，是全新的一年，也是自我挑</tspan><tspan x="215" dy="13.3">战的一年，我们将努力改正过去一年工作中的</tspan><tspan x="215" dy="13.3">不足，把新一年的工作做的更好，为公司的发</tspan><tspan x="215" dy="13.3">展前景尽一份力。</tspan></text></g>
</g>

<!-- 篇1 -->
<g class="or">
<g id="p1-i"><rect x="1732" y="520" width="219" height="104" rx="4"/><text class="t" x="1738" y="535.5"><tspan x="1738" dy="0">20__年就要过去了，总结一年的工作，有成</tspan><tspan x="1738" dy="13.3">功的喜悦，也有失误的愧疚。过去的一年，是</tspan><tspan x="1738" dy="13.3">我们部门全体员工奋力开拓的一年，更是每个</tspan><tspan x="1738" dy="13.3">仓储成员接受挑战，逐步成长的一年。为从教</tspan><tspan x="1738" dy="13.3">训中得出经验，为以后的工作做好更充分的计</tspan><tspan x="1738" dy="13.3">划准备。现对20__年的仓库管理工作做出如</tspan><tspan x="1738" dy="13.3">下总结：</tspan></text></g>
<g id="p1-l1"><rect x="1970" y="150" width="115" height="24" rx="4"/><text class="t" x="1976" y="166">一、工作回顾及感想。</text></g>
<g id="p1-l2"><rect x="1970" y="270" width="177" height="24" rx="4"/><text class="t" x="1976" y="286">二、自觉加强学习，努力适应工作。</text></g>
<g id="p1-l3"><rect x="1970" y="383" width="218" height="38" rx="4"/><text class="t" x="1976" y="398.5"><tspan x="1976" dy="0">三、建立完善的仓库账目，保证库存数目和进</tspan><tspan x="1976" dy="13.3">货、配货数目清晰准确。</tspan></text></g>
<g id="p1-l4"><rect x="1970" y="496" width="125" height="24" rx="4"/><text class="t" x="1976" y="512">四、坚持定期整理仓库。</text></g>
<g id="p1-l5"><rect x="1970" y="590" width="156" height="24" rx="4"/><text class="t" x="1976" y="606">五、认真做好每月的对账工作。</text></g>
<g id="p1-l6"><rect x="1970" y="726" width="84" height="24" rx="4"/><text class="t" x="1976" y="742">六、存在的不足</text></g>
<g id="p1-l7"><rect x="1970" y="985" width="115" height="24" rx="4"/><text class="t" x="1976" y="1001">七、拟定新的工作计划</text></g>
<g id="p1-a1"><rect x="2104" y="117" width="219" height="91" rx="4"/><text class="t" x="2110" y="132.5"><tspan x="2110" dy="0">自今年2月份进入本公司以来，在办公室做</tspan><tspan x="2110" dy="13.3">文员工作。6月份时，因仓库没人管理，调</tspan><tspan x="2110" dy="13.3">到仓库负责仓库管理工作。刚进仓库的时候</tspan><tspan x="2110" dy="13.3">业务不太熟，在此期间，我努力适应新的工作</tspan><tspan x="2110" dy="13.3">环境和工作岗位，虚心学习，埋头工作，履行</tspan><tspan x="2110" dy="13.3">职责，较好地完成了各项工作任务。</tspan></text></g>
<g id="p1-a2"><rect x="2166" y="229" width="219" height="104" rx="4"/><text class="t" x="2172" y="244.5"><tspan x="2172" dy="0">我是初次接触仓库管理工作，为了能够</tspan><tspan x="2172" dy="13.3">尽快适应新的工作岗位和环境，我自觉加</tspan><tspan x="2172" dy="13.3">强学习，虚心求教，不断理清工作思路，总结</tspan><tspan x="2172" dy="13.3">工作方法，在领导和同事的帮助下，逐</tspan><tspan x="2172" dy="13.3">渐摸清了工作中的基本情况，找到了切入</tspan><tspan x="2172" dy="13.3">点和难点。经过一段时间的学习，我已能胜</tspan><tspan x="2172" dy="13.3">任本职工作。</tspan></text></g>
<g id="p1-a3"><rect x="2208" y="357" width="219" height="91" rx="4"/><text class="t" x="2214" y="372.5"><tspan x="2214" dy="0">从7月份以来，我根据公司的要求，建立</tspan><tspan x="2214" dy="13.3">起手工保管账，使仓库账目日清月结、及时</tspan><tspan x="2214" dy="13.3">完成，在冲压车间配货中做到有据可查，基</tspan><tspan x="2214" dy="13.3">本上杜绝了断货、错货的现象。目前，</tspan><tspan x="2214" dy="13.3">仓库的账目日益完善，较好地配合了其他部</tspan><tspan x="2214" dy="13.3">门的工作。</tspan></text></g>
<g id="p1-a4"><rect x="2115" y="470" width="219" height="78" rx="4"/><text class="t" x="2121" y="485.5"><tspan x="2121" dy="0">认真细致的做好各种车型配件的入库工作</tspan><tspan x="2121" dy="13.3">，根据各种车型进行归类摆放，消除了仓库凌</tspan><tspan x="2121" dy="13.3">乱不堪的状况。在改善仓库环境的同时，为后</tspan><tspan x="2121" dy="13.3">续库存统计工作奠定了基础。保持干净整齐的</tspan><tspan x="2121" dy="13.3">仓库环境是仓库管理的一个长期基础工作。</tspan></text></g>
<g id="p1-a5"><rect x="2146" y="569" width="219" height="64" rx="4"/><text class="t" x="2152" y="584.5"><tspan x="2152" dy="0">经过六个月的接触，对这项工作已较</tspan><tspan x="2152" dy="13.3">为熟悉，能够严格按照公司的要求，做好每</tspan><tspan x="2152" dy="13.3">月的对账工作，保证各项数据准确，与财</tspan><tspan x="2152" dy="13.3">务部门做好对接手续。</tspan></text></g>
<g id="p1-b1"><rect x="2073" y="656" width="219" height="38" rx="4"/><text class="t" x="2079" y="671.5"><tspan x="2079" dy="0">1、由于刚接手工作只有半年，很多地方了解</tspan><tspan x="2079" dy="13.3">不够深入细致，需要继续努力。</tspan></text></g>
<g id="p1-b2"><rect x="2073" y="716" width="219" height="38" rx="4"/><text class="t" x="2079" y="731.5"><tspan x="2079" dy="0">2、车型种类繁多，对各种车型宏观上把握比</tspan><tspan x="2079" dy="13.3">较容易，微观掌握还需下大力气。</tspan></text></g>
<g id="p1-b3"><rect x="2073" y="775" width="219" height="51" rx="4"/><text class="t" x="2079" y="790.5"><tspan x="2079" dy="0">3、在进货量和配货量都较大的情况下，仓库</tspan><tspan x="2079" dy="13.3">容易暂时性出现空间不足、货物比较拥挤现象</tspan><tspan x="2079" dy="13.3">。</tspan></text></g>
<g id="p1-c1"><rect x="2104" y="854" width="219" height="51" rx="4"/><text class="t" x="2110" y="869.5"><tspan x="2110" dy="0">1、继续加强学习，增强对本职工作的认识，</tspan><tspan x="2110" dy="13.3">创新工作方法，提高工作效益，更好的完成各</tspan><tspan x="2110" dy="13.3">项工作任务。</tspan></text></g>
<g id="p1-c2"><rect x="2104" y="931" width="219" height="51" rx="4"/><text class="t" x="2110" y="946.5"><tspan x="2110" dy="0">2、管好账目，在电子帐的配合下，准确掌握</tspan><tspan x="2110" dy="13.3">库存和进货配货情况。更加全面的了解，更细</tspan><tspan x="2110" dy="13.3">细。</tspan></text></g>
<g id="p1-c3"><rect x="2104" y="1010" width="219" height="51" rx="4"/><text class="t" x="2110" y="1025.5"><tspan x="2110" dy="0">3、坚持定期整理仓库，及时处理废旧物品，</tspan><tspan x="2110" dy="13.3">提高仓库的利用率，避免在进货配货高峰期仓</tspan><tspan x="2110" dy="13.3">库紧张现象。</tspan></text></g>
<g id="p1-c4"><rect x="2104" y="1103" width="174" height="24" rx="4"/><text class="t" x="2110" y="1119">4、认真完成领导安排的其他工作。</text></g>
<g id="p1-c5"><rect x="2297" y="1066" width="219" height="64" rx="4"/><text class="t" x="2303" y="1081.5"><tspan x="2303" dy="0">新的一年，我将继续努力，克服不足，以更加</tspan><tspan x="2303" dy="13.3">饱满的热情投入到工作中，认真完成各项工作</tspan><tspan x="2303" dy="13.3">任务，为公司的发展贡献自己的一份力量。</tspan></text></g>
</g>

<!-- 篇3 -->
<g class="ye">
<g id="p3-a"><rect x="1732" y="1140" width="219" height="78" rx="4"/><text class="t" x="1738" y="1155.5"><tspan x="1738" dy="0">时间过得真快，转眼间半年已经结束，我很荣</tspan><tspan x="1738" dy="13.3">幸能融入这个大团体中，在公司各级领导的正</tspan><tspan x="1738" dy="13.3">确领导下，在同事们的团结合作和关心帮忙下</tspan><tspan x="1738" dy="13.3">，较好地完成了20__上半年的各项工作任务</tspan><tspan x="1738" dy="13.3">，在各方面都有了更进一步的提高。</tspan></text></g>
<g id="p3-b"><rect x="1732" y="1293" width="219" height="104" rx="4"/><text class="t" x="1738" y="1308.5"><tspan x="1738" dy="0">本人认真遵守劳动纪律，按时出勤，有效利用</tspan><tspan x="1738" dy="13.3">工作时刻，坚守岗位，需要加班完成工作按时</tspan><tspan x="1738" dy="13.3">加班加点，保证工作能按时完成，我的工作主</tspan><tspan x="1738" dy="13.3">要是仓库保管，我本着"把工作做的更好"的目</tspan><tspan x="1738" dy="13.3">标，工作上发扬开拓创新精神，扎扎实实干好</tspan><tspan x="1738" dy="13.3">本职工作，圆满地完成了20__年的各项工作</tspan><tspan x="1738" dy="13.3">：</tspan></text></g>
<g id="p3-c"><rect x="1732" y="1522" width="219" height="51" rx="4"/><text class="t" x="1738" y="1537.5"><tspan x="1738" dy="0">总结半年的来的工作，虽然取得了必须的成绩</tspan><tspan x="1738" dy="13.3">，自身也有了很大的提高，可是还存在着以下</tspan><tspan x="1738" dy="13.3">不足：</tspan></text></g>
<g id="p3-d"><rect x="1732" y="1731" width="219" height="64" rx="4"/><text class="t" x="1738" y="1746.5"><tspan x="1738" dy="0">下半年我将进一步发扬优点，改善不足，拓展</tspan><tspan x="1738" dy="13.3">思路，求真务实，全力做好本职工作，在工作</tspan><tspan x="1738" dy="13.3">中，以制度。纪律，谦虚，严谨，认真，主动</tspan><tspan x="1738" dy="13.3">理解来自各方面的意见：</tspan></text></g>
<g id="p3-b1"><rect x="1970" y="1240" width="219" height="38" rx="4"/><text class="t" x="1976" y="1255.5"><tspan x="1976" dy="0">①负责各种品种入库，出库等工作日常卫生和</tspan><tspan x="1976" dy="13.3">发货工作。</tspan></text></g>
<g id="p3-b2"><rect x="1970" y="1300" width="219" height="38" rx="4"/><text class="t" x="1976" y="1315.5"><tspan x="1976" dy="0">②做到对库存品种的明确标示，正确记载品种</tspan><tspan x="1976" dy="13.3">进。出。存动态</tspan></text></g>
<g id="p3-b3"><rect x="1970" y="1360" width="219" height="38" rx="4"/><text class="t" x="1976" y="1375.5"><tspan x="1976" dy="0">③做到每月一次对库房大扫除，清洁工作防潮</tspan><tspan x="1976" dy="13.3">，防火，防鼠。熏库</tspan></text></g>
<g id="p3-b4"><rect x="1970" y="1418" width="198" height="24" rx="4"/><text class="t" x="1976" y="1434">④做好各种品类入库的分类，品种标示。</text></g>
<g id="p3-c1"><rect x="1970" y="1465" width="219" height="78" rx="4"/><text class="t" x="1976" y="1480.5"><tspan x="1976" dy="0">1、是有时工作的质量和标准与领导的要求还</tspan><tspan x="1976" dy="13.3">有必须差距。一方面，由于个人本事不够高，</tspan><tspan x="1976" dy="13.3">发货，出库有时统计存在一些差错；另一方面</tspan><tspan x="1976" dy="13.3">，就是有的时候工作量多，时间比较紧，工作</tspan><tspan x="1976" dy="13.3">效率不高。</tspan></text></g>
<g id="p3-c2"><rect x="1970" y="1565" width="219" height="51" rx="4"/><text class="t" x="1976" y="1580.5"><tspan x="1976" dy="0">2、有时工作敏感性还不是很强，对领导交办</tspan><tspan x="1976" dy="13.3">的事不够敏感，有时工作没有提前完成，上报</tspan><tspan x="1976" dy="13.3">状况不够及时。</tspan></text></g>
<g id="p3-d1"><rect x="1970" y="1637" width="219" height="78" rx="4"/><text class="t" x="1976" y="1652.5"><tspan x="1976" dy="0">一是加强工作统筹，根据公司领导的年度工作</tspan><tspan x="1976" dy="13.3">要求，对下半年工作进行具体谋划，明确目标</tspan><tspan x="1976" dy="13.3">，加强同事之间的协同配合，把各项工作有机</tspan><tspan x="1976" dy="13.3">地结合起，理清工作思路，提高工作效率，增</tspan><tspan x="1976" dy="13.3">强工作实效。</tspan></text></g>
<g id="p3-d2"><rect x="1970" y="1737" width="219" height="51" rx="4"/><text class="t" x="1976" y="1752.5"><tspan x="1976" dy="0">二是加强工作培养。始终持续良好的精神状态</tspan><tspan x="1976" dy="13.3">，发扬吃苦耐劳、知难而进、精益求精、严谨</tspan><tspan x="1976" dy="13.3">细致、用心进取的工作作风。</tspan></text></g>
<g id="p3-d3"><rect x="1970" y="1811" width="219" height="64" rx="4"/><text class="t" x="1976" y="1826.5"><tspan x="1976" dy="0">总之一年来我做必须的工作，也取得了一些成</tspan><tspan x="1976" dy="13.3">绩，但距领导和同事们的要求还有不少的差距</tspan><tspan x="1976" dy="13.3">，管理学习抓得不够紧，工作意识不够强，在</tspan><tspan x="1976" dy="13.3">今后的工作中我将努力改进。</tspan></text></g>
</g>

<!-- 篇5 -->
<g class="gr">
<g id="p5-a"><rect x="1732" y="1911" width="219" height="51" rx="4"/><text class="t" x="1738" y="1926.5"><tspan x="1738" dy="0">我于三月份进入公司后，担任公司仓库管理员</tspan><tspan x="1738" dy="13.3">职位，现将这段时间的工作总结及工作体会叙</tspan><tspan x="1738" dy="13.3">述如下。</tspan></text></g>
<g id="p5-b"><rect x="1732" y="1985" width="219" height="144" rx="4"/><text class="t" x="1738" y="2000.5"><tspan x="1738" dy="0">刚进入公司时，面对陌生的环境和工作，我感</tspan><tspan x="1738" dy="13.3">到无从下手、充满迷茫，对业务操作也是一窍</tspan><tspan x="1738" dy="13.3">不通，连一些最简单的工作术语都不懂。在公</tspan><tspan x="1738" dy="13.3">司领导合理安排岗位和同事的帮助下，很快便</tspan><tspan x="1738" dy="13.3">对工作业务有了一定掌握，较好地熟悉了入库</tspan><tspan x="1738" dy="13.3">操作、在库管理、出库操作等。在公司领导的</tspan><tspan x="1738" dy="13.3">指导和同事的帮助下，目前已经熟练工作，能</tspan><tspan x="1738" dy="13.3">准确、及时地与客户协调处理异常情况，能较</tspan><tspan x="1738" dy="13.3">好地处理各种工作细节和服从上级、公司的工</tspan><tspan x="1738" dy="13.3">作安排和管理制度。</tspan></text></g>
<g id="p5-c"><rect x="1732" y="2271" width="219" height="51" rx="4"/><text class="t" x="1738" y="2286.5"><tspan x="1738" dy="0">同时，在领导指导、同事帮助以及自身的努力</tspan><tspan x="1738" dy="13.3">下，我对仓库管理工作也有了更深刻的认识。</tspan><tspan x="1738" dy="13.3">具体而言：</tspan></text></g>
<g id="p5-d"><rect x="1732" y="2650" width="63" height="24" rx="4"/><text class="t" x="1738" y="2666">工作体会：</text></g>
<g id="p5-c1"><rect x="1970" y="2151" width="219" height="51" rx="4"/><text class="t" x="1976" y="2166.5"><tspan x="1976" dy="0">1、对仓库的认识，熟悉了马士基、三运仓库</tspan><tspan x="1976" dy="13.3">基本情况，包括库房库区、货架、货品摆放等</tspan><tspan x="1976" dy="13.3">；</tspan></text></g>
<g id="p5-c2"><rect x="1970" y="2224" width="219" height="64" rx="4"/><text class="t" x="1976" y="2239.5"><tspan x="1976" dy="0">2、对流程的认识，熟悉马士基仓库的进出库</tspan><tspan x="1976" dy="13.3">操作流程和系统流程、三运仓库的操作流程和</tspan><tspan x="1976" dy="13.3">系统流程；QC流程；增值服务操作流程；异</tspan><tspan x="1976" dy="13.3">常处理流程；盘点流程等；</tspan></text></g>
<g id="p5-c3"><rect x="1970" y="2310" width="219" height="51" rx="4"/><text class="t" x="1976" y="2325.5"><tspan x="1976" dy="0">3、对管理的认识，较好地熟悉了5S管理；仓</tspan><tspan x="1976" dy="13.3">库安全管理；库区规划；货品摆放；成本节约</tspan><tspan x="1976" dy="13.3">；人员安排等；</tspan></text></g>
<g id="p5-c4"><rect x="1970" y="2383" width="219" height="64" rx="4"/><text class="t" x="1976" y="2398.5"><tspan x="1976" dy="0">4、对职责的认识，明白了团队的重要性；工</tspan><tspan x="1976" dy="13.3">作合理安排、保障效率的重要性；较好地协调</tspan><tspan x="1976" dy="13.3">本组人员的工作和保障准确性；对工作能够负</tspan><tspan x="1976" dy="13.3">责和能够按时顺利完成。</tspan></text></g>
<g id="p5-d1"><rect x="1813" y="2470" width="219" height="104" rx="4"/><text class="t" x="1819" y="2485.5"><tspan x="1819" dy="0">1、高效服务，全力做好客户服务工作我们的</tspan><tspan x="1819" dy="13.3">工作本职是服务，服务客户是我们赖以生存的</tspan><tspan x="1819" dy="13.3">主旋律，只有做好了客户服务，得到了客户的</tspan><tspan x="1819" dy="13.3">认可。客户才会真正地认同我们。能做到高效</tspan><tspan x="1819" dy="13.3">服务，对于客户的电话咨询，我都耐心解释并</tspan><tspan x="1819" dy="13.3">给予解决，客户提到的问题和需要，都能及时</tspan><tspan x="1819" dy="13.3">解答和解决。</tspan></text></g>
<g id="p5-d2"><rect x="1813" y="2597" width="219" height="144" rx="4"/><text class="t" x="1819" y="2612.5"><tspan x="1819" dy="0">2、专业学习是做好工作的动力源泉我们的工</tspan><tspan x="1819" dy="13.3">作价值是什么？是在工作中，得到不断地提升</tspan><tspan x="1819" dy="13.3">，不断地去学习得到进步。假如我们甘于落后</tspan><tspan x="1819" dy="13.3">，那么我们的价值将会一降再降，直到自己都</tspan><tspan x="1819" dy="13.3">不能认可自己。专业的学习，使自己的实际操</tspan><tspan x="1819" dy="13.3">作得到理论的支持，理论知识得到实际操作的</tspan><tspan x="1819" dy="13.3">验证，不断地提升不断地进步，才真正是我们</tspan><tspan x="1819" dy="13.3">的工作价值。点的精通，线的发展，交织成面</tspan><tspan x="1819" dy="13.3">的扩张，使自己能够覆盖更大的领域，才能在</tspan><tspan x="1819" dy="13.3">各方面不断地提升自己。</tspan></text></g>
<g id="p5-d3"><rect x="1813" y="2764" width="219" height="78" rx="4"/><text class="t" x="1819" y="2779.5"><tspan x="1819" dy="0">3、因势而变，顺势而为，全力做好自己在各</tspan><tspan x="1819" dy="13.3">种突发情况和紧急中，我迅速转变思路，找准</tspan><tspan x="1819" dy="13.3">自己的工作定位，积极和同事讨论改进方法。</tspan><tspan x="1819" dy="13.3">讨论在工作过程中的问题，有一些专业上不懂</tspan><tspan x="1819" dy="13.3">的地方我虚心向其他有经验的同事学习。</tspan></text></g>
</g>

<!-- 篇7 -->
<g class="lb">
<g id="p7-a"><rect x="1732" y="2862" width="219" height="104" rx="4"/><text class="t" x="1738" y="2877.5"><tspan x="1738" dy="0">我在__物业公司快两年了年6月到公司任仓库</tspan><tspan x="1738" dy="13.3">管理员，截止今天！时间如梭，转眼间又跨过</tspan><tspan x="1738" dy="13.3">一个年度之坎，回首望，虽没有轰轰烈烈的战</tspan><tspan x="1738" dy="13.3">果，但也算经历了一段不平凡的考验和磨砺。</tspan><tspan x="1738" dy="13.3">使我在公司找到了自己新的定位方向和生活目</tspan><tspan x="1738" dy="13.3">标，同时也激发我以新的姿态，去迎接新生活</tspan><tspan x="1738" dy="13.3">！</tspan></text></g>
<g id="p7-b"><rect x="1732" y="2988" width="136" height="24" rx="4"/><text class="t" x="1738" y="3004">（一）面对现实，接受挑战</text></g>
<g id="p7-c"><rect x="1732" y="3035" width="219" height="157" rx="4"/><text class="t" x="1738" y="3050.5"><tspan x="1738" dy="0">20__年6月我到__物业公司接任仓库管理员一</tspan><tspan x="1738" dy="13.3">职，要面临工作极大挑战。由于当时仓管员急</tspan><tspan x="1738" dy="13.3">辞职，中间间断了一个月的时间，那时__物业</tspan><tspan x="1738" dy="13.3">公司不仅是账目混乱，而且有大量的不良库存</tspan><tspan x="1738" dy="13.3">，部分物品还有短缺，我的心一下子就变的沉</tspan><tspan x="1738" dy="13.3">重起来，怎么办？如何来理顺这个烂摊子？我</tspan><tspan x="1738" dy="13.3">没有灰心，决心凭借以往的的管理经验来尽快</tspan><tspan x="1738" dy="13.3">理顺这个烂摊子，首先整理帐目，其次对所有</tspan><tspan x="1738" dy="13.3">物品进行大盘点，对所有货物进行分类有序摆</tspan><tspan x="1738" dy="13.3">放，通过这些努力后，整个__物业公司仓库进</tspan><tspan x="1738" dy="13.3">入良性循环。</tspan></text></g>
<g id="p7-d"><rect x="1732" y="3215" width="136" height="24" rx="4"/><text class="t" x="1738" y="3231">（二）理清头绪，细化管理</text></g>
<g id="p7-e"><rect x="1732" y="3261" width="219" height="290" rx="4"/><text class="t" x="1738" y="3276.5"><tspan x="1738" dy="0">每日库存报表都由我一人负责！所以在公司一</tspan><tspan x="1738" dy="13.3">直都很忙碌。我决定从以下几个方面进行管理</tspan><tspan x="1738" dy="13.3">：从新设计制定__物业公司管理规范，严把出</tspan><tspan x="1738" dy="13.3">库、入库和在库三个方面管理，参考《仓储管</tspan><tspan x="1738" dy="13.3">理人员工作级效考核表》进行量化管理，每天</tspan><tspan x="1738" dy="13.3">抽盘，每周小盘点，每月配合财务大盘点，作</tspan><tspan x="1738" dy="13.3">到账目清晰，账实相符。经手货款无一差错，</tspan><tspan x="1738" dy="13.3">体现了一名财务人员的严谨和细致，近段时间</tspan><tspan x="1738" dy="13.3">来，账实相符基本达到100%，实现无库损！</tspan><tspan x="1738" dy="13.3">与公司同事紧密配合，做到库存的结构合理。</tspan><tspan x="1738" dy="13.3">紧盯各物品流动，认认真真做好每月的月报表</tspan><tspan x="1738" dy="13.3">。每月准时向财务部发库存月报表。并结合自</tspan><tspan x="1738" dy="13.3">身岗位，先后做出《进销存明细帐》，固定资</tspan><tspan x="1738" dy="13.3">产表格，物品物资表格，物资中购汇总表格等</tspan><tspan x="1738" dy="13.3">，有力的配合了财务！对在库物品进行分类管</tspan><tspan x="1738" dy="13.3">理，对工程类办公类清洁类固定资产类等主要</tspan><tspan x="1738" dy="13.3">品项实施重点管理，在做申购汇总表时减小在</tspan><tspan x="1738" dy="13.3">库物品的再申购，努力降低其库存量，对小品</tspan><tspan x="1738" dy="13.3">项等实行简单控制，改方案实施做到了重点与</tspan><tspan x="1738" dy="13.3">一般的结合，降低了库存，加速了库存周转率</tspan><tspan x="1738" dy="13.3">。</tspan></text></g>
<g id="p7-f"><rect x="1732" y="3575" width="94" height="24" rx="4"/><text class="t" x="1738" y="3591">（三）进行信息化</text></g>
<g id="p7-g"><rect x="1732" y="3622" width="219" height="104" rx="4"/><text class="t" x="1738" y="3637.5"><tspan x="1738" dy="0">随着公司业务的连年增长，工程部需求物资够</tspan><tspan x="1738" dy="13.3">大，日发货收货量也进一步扩大，在__物业公</tspan><tspan x="1738" dy="13.3">司领导的重视下，实现了对仓库的实时管理。</tspan><tspan x="1738" dy="13.3">我每天只要把出入库情况及库存报表输入电脑</tspan><tspan x="1738" dy="13.3">，可以准时看到库存明细！该举措大大方便公</tspan><tspan x="1738" dy="13.3">司领导和员工的查询，加强与各部门之间的信</tspan><tspan x="1738" dy="13.3">息交流，整个__年不良库存下降基本至零！</tspan></text></g>
<g id="p7-h"><rect x="1732" y="3748" width="156" height="24" rx="4"/><text class="t" x="1738" y="3764">（四）坚持学习，与公司共成长</text></g>
<g id="p7-i"><rect x="1732" y="3794" width="219" height="184" rx="4"/><text class="t" x="1738" y="3809.5"><tspan x="1738" dy="0">在仓库的这段期间我更加明白了公司领导给我</tspan><tspan x="1738" dy="13.3">讲的仓库管理的计划和控制，最让我难忘的是</tspan><tspan x="1738" dy="13.3">黄总、卢总亲自到仓库指导工作，提醒我保持</tspan><tspan x="1738" dy="13.3">学习，说公司在快速发展的同时，个人会有更</tspan><tspan x="1738" dy="13.3">大的舞台，与公司一起共成长！工作之余，我</tspan><tspan x="1738" dy="13.3">学习会计、营销、管理、电脑等知识，在工作</tspan><tspan x="1738" dy="13.3">中充实和完善自己！回首过去两年来的工作管</tspan><tspan x="1738" dy="13.3">理经历，我成熟许多，也成长许多，一直致力</tspan><tspan x="1738" dy="13.3">利于仓库管理的合理化，整合进销存。也深知</tspan><tspan x="1738" dy="13.3">一个团队的重要性，只有与工程，财务等紧密</tspan><tspan x="1738" dy="13.3">配合才能更好的发挥仓库管理员的职能！我在</tspan><tspan x="1738" dy="13.3">公司各位领导和同事的关心下，愉快的度过了</tspan><tspan x="1738" dy="13.3">两年难忘的时光！</tspan></text></g>
</g>
</svg>
